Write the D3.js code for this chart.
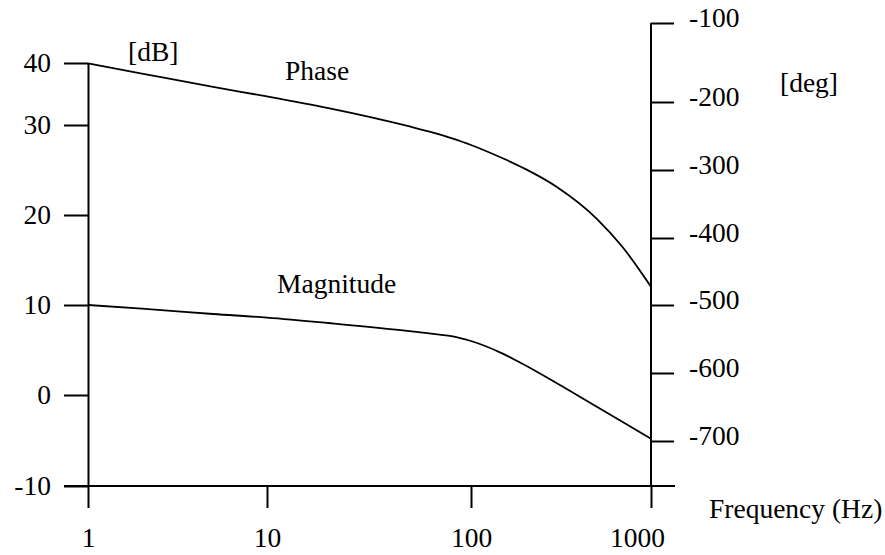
<!DOCTYPE html>
<html>
<head>
<meta charset="utf-8">
<script src="https://cdn.jsdelivr.net/npm/d3@7"></script>
<style>
  body { margin: 0; background: #fff; }
  svg text { font-family: "Liberation Serif", "Times New Roman", serif; font-size: 27.5px; fill: #000; }
  .axis path, .axis line { stroke: #000; stroke-width: 2; }
</style>
</head>
<body>
<div id="chart"></div>
<script>
// frequency in Hz
var freqs     = [1, 2, 5, 10, 20, 50, 70, 80, 100, 150, 200, 300, 500, 700, 1000];
var magnitude = [10, 9.6, 9.0, 8.6, 8.0, 7.1, 6.7, 6.55, 6.0, 4.6, 3.3, 1.3, -1.3, -3.0, -4.8];   // dB
var phase     = [-151, -164, -181, -193, -209, -236, -247.6, -253.1, -263.2, -282.8, -298.4, -325, -371.8, -414.6, -472.7]; // deg

var freqTicks = [1, 10, 100, 1000];
var dbTicks   = [-10, 0, 10, 20, 30, 40];
var degTicks  = [-700, -600, -500, -400, -300, -200, -100];

var svg = d3.select("#chart").append("svg")
            .attr("width", 885)
            .attr("height", 555);

// the drawing is hand made, so the axes are not quite even: piecewise scales
var xLog = d3.scaleLinear().domain([0, 1, 2, 3]).range([88, 267, 471, 651]);
var x = function(f){ return xLog(Math.log10(f)); };
var yDb = d3.scaleLinear().domain(dbTicks).range([486, 395, 305, 215, 125, 63]);
var yDeg = d3.scaleLinear().domain(degTicks).range([441, 373, 305, 238, 170, 102, 23]);

var left = xLog(0), right = xLog(3), bottom = yDb(-10);
var plain = function(d){ return String(d); };   // keep ascii hyphen, not d3's minus sign

// x axis
var xAxis = svg.append("g")
    .attr("class", "axis")
    .attr("transform", "translate(0," + bottom + ")")
    .call(d3.axisBottom(xLog)
            .tickValues(freqTicks.map(function(f){ return Math.log10(f); }))
            .tickFormat(function(d){ return String(Math.round(Math.pow(10, d))); })
            .tickSize(22).tickSizeOuter(0).tickPadding(19));
xAxis.select(".domain").remove();
xAxis.selectAll("text").filter(function(d){ return d === 3; }).attr("dx", -14);

// baseline runs past both vertical axes
svg.append("line")
    .attr("x1", left - 24).attr("x2", right + 24)
    .attr("y1", bottom).attr("y2", bottom)
    .attr("stroke", "#000").attr("stroke-width", 2);

// left axis (dB)
svg.append("g")
    .attr("class", "axis")
    .attr("transform", "translate(" + left + ",0)")
    .call(d3.axisLeft(yDb).tickValues(dbTicks).tickFormat(plain)
            .tickSize(24).tickSizeOuter(0).tickPadding(13));

// right axis (deg)
var yAxisR = svg.append("g")
    .attr("class", "axis")
    .attr("transform", "translate(" + right + ",0)")
    .call(d3.axisRight(yDeg).tickValues(degTicks).tickFormat(plain)
            .tickSize(23).tickSizeOuter(0).tickPadding(15));
yAxisR.select(".domain").remove();
yAxisR.selectAll("text").attr("dy", "0.14em");
svg.append("line")
    .attr("x1", right).attr("x2", right)
    .attr("y1", yDeg(-100)).attr("y2", bottom)
    .attr("stroke", "#000").attr("stroke-width", 2);

svg.selectAll(".axis text").attr("font-size", null);

// curves
var magLine = d3.line()
    .x(function(d, i){ return x(freqs[i]); })
    .y(function(d){ return yDb(d); })
    .curve(d3.curveMonotoneX);
var phaseLine = d3.line()
    .x(function(d, i){ return x(freqs[i]); })
    .y(function(d){ return yDeg(d); })
    .curve(d3.curveMonotoneX);

svg.append("path").datum(magnitude)
    .attr("d", magLine)
    .attr("fill", "none").attr("stroke", "#000").attr("stroke-width", 1.8);
svg.append("path").datum(phase)
    .attr("d", phaseLine)
    .attr("fill", "none").attr("stroke", "#000").attr("stroke-width", 1.8);

// labels
svg.append("text").attr("x", 128).attr("y", 61).text("[dB]");
svg.append("text").attr("x", 780).attr("y", 92).text("[deg]");
svg.append("text").attr("x", 285).attr("y", 80).text("Phase");
svg.append("text").attr("x", 277).attr("y", 293).text("Magnitude");
svg.append("text").attr("x", 709).attr("y", 518).text("Frequency (Hz)");
</script>
</body>
</html>
